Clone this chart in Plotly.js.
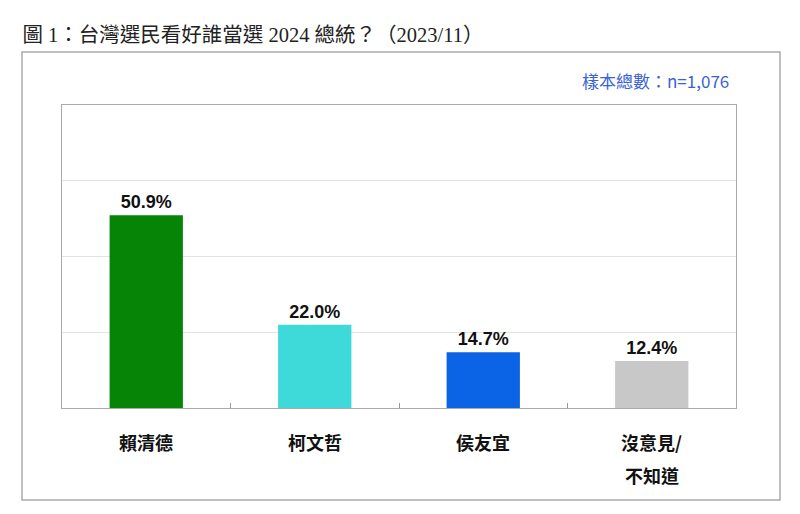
<!DOCTYPE html>
<html><head><meta charset="utf-8">
<script src="https://cdn.plot.ly/plotly-3.0.1.min.js"></script>
<style>html,body{margin:0;padding:0;background:#fff}#c{width:800px;height:514px}</style>
</head><body><div id="c"></div>
<script>
const categories = ["賴清德", "柯文哲", "侯友宜", "沒意見/不知道"];
const labelLines = [["賴清德"], ["柯文哲"], ["侯友宜"], ["沒意見/", "不知道"]];
const values = [50.9, 22.0, 14.7, 12.4];
const colors = ["#058405", "#3ED9D9", "#0B63E6", "#C8C8C8"];
const titleText = "圖 1：台灣選民看好誰當選 2024 總統？（2023/11）";
const noteText = "樣本總數：n=1,076";

const cjk = "Noto Sans CJK TC, Liberation Sans, sans-serif";
const annotations = [];
labelLines.forEach((lines, i) => {
  lines.forEach((ln, j) => {
    annotations.push({
      x: categories[i], xref: "x", y: 0, yref: "paper",
      yshift: -34 - j * 33, text: ln, showarrow: false,
      xanchor: "center", yanchor: "middle",
      font: {family: cjk, size: 18, color: "#111", weight: 600}
    });
  });
});
annotations.push({
  x: 1.0, xref: "paper", y: 1.0, yref: "paper", yshift: 25,
  xanchor: "right", yanchor: "middle", xshift: -5,
  text: noteText, showarrow: false,
  font: {family: cjk, size: 17, color: "#3A62D8"}
});

const trace = {
  type: "bar", x: categories, y: values,
  marker: {color: colors, line: {width: 0}},
  text: values.map(v => v.toFixed(1) + "%"),
  textposition: "outside", cliponaxis: false,
  textfont: {family: "Liberation Sans, Arial, sans-serif", size: 18, color: "#111", weight: "bold"},
  hoverinfo: "none"
};

const layout = {
  width: 800, height: 514,
  margin: {l: 62, r: 64, t: 105, b: 106},
  paper_bgcolor: "#fff", plot_bgcolor: "#fff",
  showlegend: false, bargap: 0.565,
  title: {
    text: titleText, x: 0.028, xanchor: "left", xref: "container",
    y: 1 - 35/514, yanchor: "middle", yref: "container",
    font: {family: "Liberation Serif, Noto Sans CJK TC, serif", size: 20.5, color: "#222"}
  },
  xaxis: {
    showticklabels: false, ticks: "inside", tickson: "boundaries", ticklen: 5,
    tickcolor: "#999", showline: true, linecolor: "#aaa", linewidth: 1, mirror: true,
    showgrid: false, fixedrange: true
  },
  yaxis: {
    range: [0, 80], dtick: 20, showticklabels: false, ticks: "",
    showgrid: true, gridcolor: "#e3e3e3", gridwidth: 1,
    showline: true, linecolor: "#aaa", linewidth: 1, mirror: true,
    zeroline: false, fixedrange: true
  },
  shapes: [{
    type: "rect", xref: "paper", yref: "paper",
    x0: (22 - 62) / 674, x1: (780 - 62) / 674,
    y0: (408 - 500) / 303, y1: (408 - 52) / 303,
    line: {color: "#aaa", width: 1.5}, fillcolor: "rgba(0,0,0,0)", layer: "below"
  }],
  annotations: annotations
};

Plotly.newPlot("c", [trace], layout, {displayModeBar: false, staticPlot: true});
</script></body></html>
